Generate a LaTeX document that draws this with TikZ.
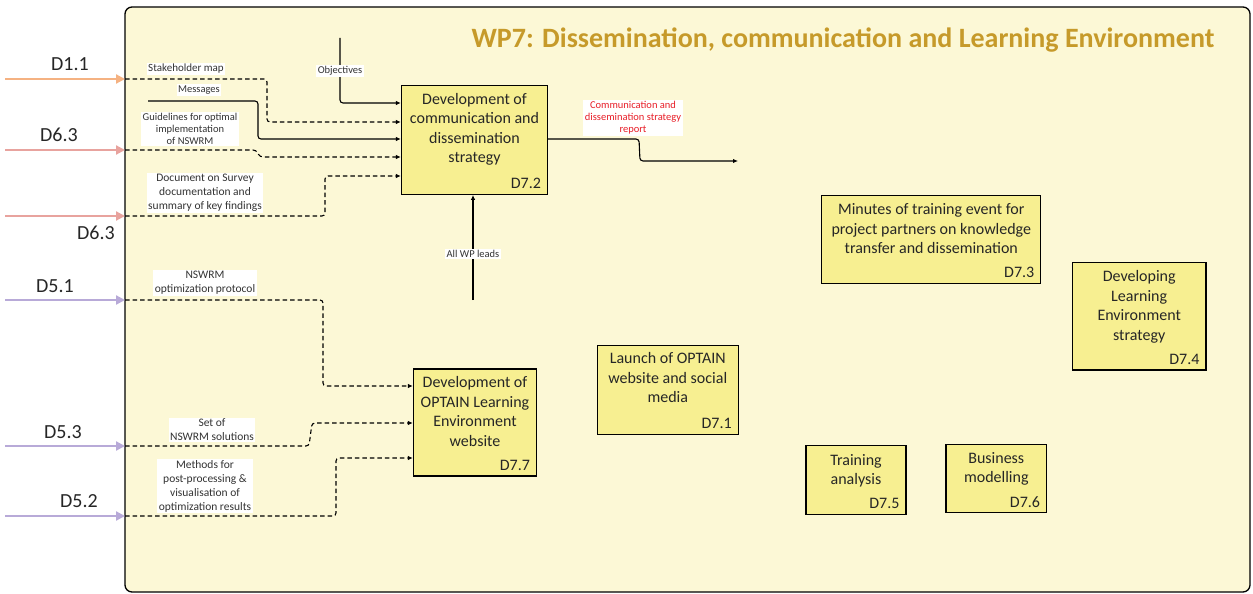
\documentclass[tikz,border=0pt]{standalone}
\usepackage{fontspec}
\setmainfont{Carlito}
\usetikzlibrary{arrows.meta}
\definecolor{panel}{RGB}{252,248,214}
\definecolor{boxfill}{RGB}{247,239,145}
\definecolor{titlegold}{RGB}{198,154,42}
\definecolor{feedorange}{RGB}{245,178,130}
\definecolor{feedpink}{RGB}{232,163,158}
\definecolor{feedlilac}{RGB}{184,170,216}
\definecolor{outred}{RGB}{232,30,40}
\begin{document}
\begin{tikzpicture}[x=1pt,y=-1pt,
  deliv/.style={draw=black, line width=1.3pt, fill=boxfill, inner sep=0pt},
  boxtext/.style={font=\fontsize{16}{19.5}\selectfont, align=center, anchor=north, inner sep=0pt, text=black!85},
  dnum/.style={font=\fontsize{16}{19}\selectfont, anchor=south east, inner sep=0pt, text=black!85},
  flow/.style={line width=1.1pt, rounded corners=3pt, -{Latex[length=5pt,width=4.5pt]}},
  soft/.style={flow, dash pattern=on 4.5pt off 3pt},
  tag/.style={fill=white, inner sep=1.5pt, align=center, text=black!80, font=\fontsize{10.5}{12}\selectfont},
  bigtag/.style={tag, font=\fontsize{11.5}{14}\selectfont},
  feed/.style={line width=2.2pt, -{Triangle[length=9pt,width=9pt]}},
  dlabel/.style={font=\fontsize{20}{24}\selectfont, text=black!85, inner sep=0pt}
]
\useasboundingbox (0,0) rectangle (1253,594);

% work package panel
\draw[line width=1.3pt, fill=panel, rounded corners=7pt] (125,7) rectangle (1250,592);
\node[font=\fontsize{28}{32}\selectfont\bfseries, text=titlegold] (title) at (843,40)
  {WP7: Dissemination, communication and Learning Environment};

% deliverable boxes
\node[deliv, minimum width=146pt, minimum height=108.5pt] (d72) at (474.5,140) {};
\node[deliv, minimum width=123pt, minimum height=107pt] (d77) at (475,422.5) {};
\node[deliv, minimum width=141pt, minimum height=89pt] (d71) at (667.8,389.7) {};
\node[deliv, minimum width=219pt, minimum height=88pt] (d73) at (931.3,239.5) {};
\node[deliv, minimum width=133.5pt, minimum height=107.5pt] (d74) at (1139.2,316.2) {};
\node[deliv, minimum width=100pt, minimum height=69pt] (d75) at (856,480) {};
\node[deliv, minimum width=100.5pt, minimum height=68.5pt] (d76) at (996.3,478.5) {};

\node[boxtext] (d72t) at ([yshift=-8pt]d72.north) {Development of\\communication and\\dissemination\\strategy};
\node[boxtext] (d77t) at ([yshift=-8pt]d77.north) {Development of\\OPTAIN Learning\\Environment\\website};
\node[boxtext] (d71t) at ([yshift=-8pt]d71.north) {Launch of OPTAIN\\website and social\\media};
\node[boxtext] (d73t) at ([yshift=-8.5pt]d73.north) {Minutes of training event for\\project partners on knowledge\\transfer and dissemination};
\node[boxtext] (d74t) at ([yshift=-8.5pt]d74.north) {Developing\\Learning\\Environment\\strategy};
\node[boxtext] (d75t) at ([yshift=-9pt]d75.north) {Training\\analysis};
\node[boxtext] (d76t) at ([yshift=-8.5pt]d76.north) {Business\\modelling};

\node[dnum, xshift=-7pt, yshift=6pt] (d72n) at (d72.south east) {D7.2};
\node[dnum, xshift=-7pt, yshift=6pt] (d77n) at (d77.south east) {D7.7};
\node[dnum, xshift=-7pt, yshift=6pt] (d71n) at (d71.south east) {D7.1};
\node[dnum, xshift=-7pt, yshift=6pt] (d73n) at (d73.south east) {D7.3};
\node[dnum, xshift=-7pt, yshift=6pt] (d74n) at (d74.south east) {D7.4};
\node[dnum, xshift=-7pt, yshift=6pt] (d75n) at (d75.south east) {D7.5};
\node[dnum, xshift=-7pt, yshift=6pt] (d76n) at (d76.south east) {D7.6};

% external inputs entering the panel
\coordinate (in11) at (125,79);   \coordinate (src11) at (5,79);
\coordinate (in63a) at (125,150); \coordinate (src63a) at (5,150);
\coordinate (in63b) at (125,216); \coordinate (src63b) at (5,216);
\coordinate (in51) at (125,300);  \coordinate (src51) at (5,300);
\coordinate (in53) at (125,446);  \coordinate (src53) at (5,446);
\coordinate (in52) at (125,516);  \coordinate (src52) at (5,516);

\draw[feed, feedorange] (src11) -- (in11);
\draw[feed, feedpink] (src63a) -- (in63a);
\draw[feed, feedpink] (src63b) -- (in63b);
\draw[feed, feedlilac] (src51) -- (in51);
\draw[feed, feedlilac] (src53) -- (in53);
\draw[feed, feedlilac] (src52) -- (in52);

\node[dlabel] (l11) at (70,64) {D1.1};
\node[dlabel] (l63a) at (59,135) {D6.3};
\node[dlabel] (l63b) at (96,233) {D6.3};
\node[dlabel] (l51) at (55,286) {D5.1};
\node[dlabel] (l53) at (63,432) {D5.3};
\node[dlabel] (l52) at (79,501) {D5.2};

% free starts of internal flows
\coordinate (objsrc) at (340,38);
\coordinate (msgsrc) at (148,101);
\coordinate (wpsrc) at (473,300);
\coordinate (outend) at (738,161);

% flows into D7.2
\draw[flow] (objsrc) -- (340,103) -- (d72.west |- 0,103);
\draw[soft] (in11) -- (267,79) -- (267,122) -- (d72.west |- 0,122);
\draw[flow] (msgsrc) -- (258,101) -- (258,139) -- (d72.west |- 0,139);
\draw[soft] (in63a) -- (256,150) -- (260,157) -- (d72.west |- 0,157);
\draw[soft] (in63b) -- (325,216) -- (325,176) -- (d72.west |- 0,176);
\draw[flow] (wpsrc) -- (wpsrc |- d72.south);
\draw[flow] (d72.east |- 0,139) -- (639,139) -- (640,161) -- (outend);

% flows into D7.7
\draw[soft] (in51) -- (323,300) -- (323,386) -- (d77.west |- 0,386);
\draw[soft] (in53) -- (309,446) -- (312,423) -- (d77.west |- 0,423);
\draw[soft] (in52) -- (336,516) -- (336,458) -- (d77.west |- 0,458);

% flow labels
\node[tag] (tobj) at (340,71) {Objectives};
\node[tag, font=\fontsize{11}{12}\selectfont] (tsh) at (186,69) {Stakeholder map};
\node[tag] (tmsg) at (199,90) {Messages};
\node[tag] (tgl) at (190,129) {Guidelines for optimal\\implementation\\of NSWRM};
\node[bigtag] (tdoc) at (205,193) {Document on Survey\\documentation and\\summary of key findings};
\node[tag] (twp) at (473,254) {All WP leads};
\node[tag, text=outred] (tout) at (633,118) {Communication and\\dissemination strategy\\report};
\node[bigtag] (topt) at (205,283) {NSWRM\\optimization protocol};
\node[bigtag] (tset) at (212,430) {Set of\\NSWRM solutions};
\node[bigtag] (tmeth) at (205,486) {Methods for\\post-processing \&\\visualisation of\\optimization results};
\end{tikzpicture}
\end{document}
